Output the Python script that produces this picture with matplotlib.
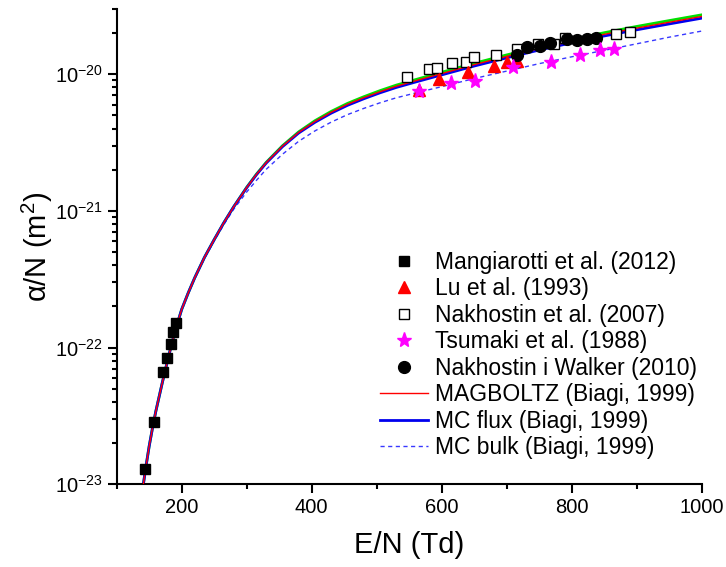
import matplotlib
matplotlib.use("Agg")
import matplotlib.pyplot as plt
from matplotlib.ticker import MultipleLocator, LogLocator, NullFormatter

plt.rcParams['font.family'] = ['Liberation Sans', 'DejaVu Sans']
plt.rcParams['mathtext.fontset'] = 'custom'
plt.rcParams['mathtext.rm'] = 'Liberation Sans'
plt.rcParams['mathtext.it'] = 'Liberation Sans:italic'
plt.rcParams['mathtext.default'] = 'regular'
plt.rcParams['axes.unicode_minus'] = False

# experimental data (E/N in Td, alpha/N in m^2)
mang_x = [143.6, 157.9, 171.7, 177.4, 183.5, 187.1, 191.2]
mang_y = [1.30e-23, 2.87e-23, 6.59e-23, 8.43e-23, 1.07e-22, 1.30e-22, 1.52e-22]

lu_x = [565, 596, 641, 681, 700, 716]
lu_y = [7.64e-21, 9.3e-21, 1.04e-20, 1.15e-20, 1.23e-20, 1.24e-20]

nak_x = [547, 580, 593, 616, 637, 650, 683, 716, 748, 772, 790, 868, 890]
nak_y = [9.55e-21, 1.09e-20, 1.11e-20, 1.20e-20, 1.23e-20, 1.34e-20, 1.38e-20,
         1.52e-20, 1.66e-20, 1.65e-20, 1.85e-20, 1.96e-20, 2.04e-20]

tsu_x = [565, 614, 651, 709, 768, 813, 843, 865]
tsu_y = [7.5e-21, 8.65e-21, 8.89e-21, 1.13e-20, 1.23e-20, 1.38e-20, 1.50e-20, 1.54e-20]

nw_x = [716, 731, 751, 766, 792, 808, 823, 838]
nw_y = [1.38e-20, 1.58e-20, 1.60e-20, 1.69e-20, 1.80e-20, 1.77e-20, 1.82e-20, 1.85e-20]

# calculated curves
curve_x = [141, 145, 150, 155, 160, 170, 180, 190, 200, 210, 220, 235, 250, 265,
           280, 300, 315, 330, 355, 380, 405, 430, 455, 480, 505, 530, 565, 600,
           650, 700, 750, 800, 850, 900, 950, 1000]
mc_flux = [1.0e-23, 1.35e-23, 1.905e-23, 2.57e-23, 3.39e-23, 5.50e-23, 8.71e-23,
           1.334e-22, 1.905e-22, 2.51e-22, 3.24e-22, 4.57e-22, 6.17e-22, 8.22e-22,
           1.072e-21, 1.479e-21, 1.84e-21, 2.239e-21, 2.95e-21, 3.715e-21, 4.45e-21,
           5.19e-21, 5.92e-21, 6.61e-21, 7.31e-21, 8.00e-21, 8.91e-21, 9.89e-21,
           1.148e-20, 1.318e-20, 1.503e-20, 1.698e-20, 1.905e-20, 2.113e-20,
           2.333e-20, 2.57e-20]
magboltz = [1.0e-23, 1.35e-23, 1.905e-23, 2.57e-23, 3.39e-23, 5.50e-23, 8.71e-23,
            1.334e-22, 1.905e-22, 2.51e-22, 3.24e-22, 4.57e-22, 6.17e-22, 8.22e-22,
            1.072e-21, 1.484e-21, 1.849e-21, 2.252e-21, 2.974e-21, 3.752e-21, 4.51e-21,
            5.27e-21, 6.02e-21, 6.73e-21, 7.44e-21, 8.16e-21, 9.10e-21, 1.011e-20,
            1.175e-20, 1.351e-20, 1.542e-20, 1.744e-20, 1.958e-20, 2.174e-20,
            2.40e-20, 2.645e-20]
green = [1.0e-23, 1.35e-23, 1.905e-23, 2.57e-23, 3.39e-23, 5.50e-23, 8.71e-23,
         1.334e-22, 1.905e-22, 2.51e-22, 3.24e-22, 4.57e-22, 6.17e-22, 8.22e-22,
         1.072e-21, 1.489e-21, 1.858e-21, 2.266e-21, 2.997e-21, 3.789e-21, 4.57e-21,
         5.346e-21, 6.115e-21, 6.841e-21, 7.58e-21, 8.32e-21, 9.28e-21, 1.0335e-20,
         1.202e-20, 1.384e-20, 1.581e-20, 1.790e-20, 2.012e-20, 2.236e-20,
         2.468e-20, 2.719e-20]
mc_bulk = [1.0e-23, 1.35e-23, 1.905e-23, 2.57e-23, 3.39e-23, 5.50e-23, 8.71e-23,
           1.334e-22, 1.905e-22, 2.51e-22, 3.21e-22, 4.50e-22, 6.05e-22, 7.97e-22,
           1.029e-21, 1.375e-21, 1.674e-21, 2.015e-21, 2.596e-21, 3.232e-21, 3.849e-21,
           4.463e-21, 5.062e-21, 5.619e-21, 6.177e-21, 6.72e-21, 7.395e-21, 8.11e-21,
           9.30e-21, 1.054e-20, 1.195e-20, 1.341e-20, 1.495e-20, 1.669e-20,
           1.866e-20, 2.069e-20]

fig = plt.figure(figsize=(7.26, 5.67), dpi=100)
ax = fig.add_axes([116.7 / 726, 1 - 484.3 / 567, 585 / 726, 475.3 / 567])

ax.plot(curve_x, green, color='#00e000', lw=2, zorder=2)
ax.plot(curve_x, magboltz, color='red', lw=1, zorder=3, label='MAGBOLTZ (Biagi, 1999)')
ax.plot(curve_x, mc_flux, color='#0000ee', lw=2, zorder=2.5, label='MC flux (Biagi, 1999)')
ax.plot(curve_x, mc_bulk, color='#3838ff', lw=1, ls=(0, (3, 2.5)), zorder=2,
        label='MC bulk (Biagi, 1999)')

ax.plot(mang_x, mang_y, 's', color='black', ms=7.5, ls='none', zorder=4,
        label='Mangiarotti et al. (2012)')
ax.plot(lu_x, lu_y, '^', color='red', ms=9, ls='none', zorder=4, label='Lu et al. (1993)')
ax.plot(nak_x, nak_y, 's', mfc='white', mec='black', mew=1, ms=7.5, ls='none', zorder=3,
        label='Nakhostin et al. (2007)')
ax.plot(tsu_x, tsu_y, '*', color='#ff00ff', ms=11, ls='none', zorder=5,
        label='Tsumaki et al. (1988)')
ax.plot(nw_x, nw_y, 'o', color='black', ms=8.5, ls='none', zorder=4,
        label='Nakhostin i Walker (2010)')

ax.set_yscale('log')
ax.set_xlim(100, 1000)
ax.set_ylim(1e-23, 3e-20)
ax.xaxis.set_major_locator(MultipleLocator(200))
ax.xaxis.set_minor_locator(MultipleLocator(100))
ax.set_xticks([200, 400, 600, 800, 1000])
ax.yaxis.set_major_locator(LogLocator(base=10))
ax.yaxis.set_minor_locator(LogLocator(base=10, subs=range(2, 10)))
ax.yaxis.set_minor_formatter(NullFormatter())

for side in ['top', 'right']:
    ax.spines[side].set_visible(False)
for side in ['left', 'bottom']:
    ax.spines[side].set_linewidth(1.5)
ax.tick_params(which='major', direction='out', length=6.5, width=1.5, labelsize=14.5)
ax.tick_params(which='minor', direction='out', length=3.5, width=1.5)

ax.set_xlabel('E/N (Td)', fontsize=21, labelpad=10)
ax.set_ylabel('α/N (m$^2$)', fontsize=21, labelpad=0)

handles, labels = ax.get_legend_handles_labels()
order = [3, 4, 5, 6, 7, 0, 1, 2]
fig.legend([handles[i] for i in order], [labels[i] for i in order],
           loc='upper left', bbox_to_anchor=(380 / 726, 1 - 251 / 567),
           frameon=False, fontsize=16.5, labelspacing=0.15, handlelength=2.1,
           handletextpad=0.3, borderpad=0, borderaxespad=0)

fig.savefig('out.png', dpi=100)
